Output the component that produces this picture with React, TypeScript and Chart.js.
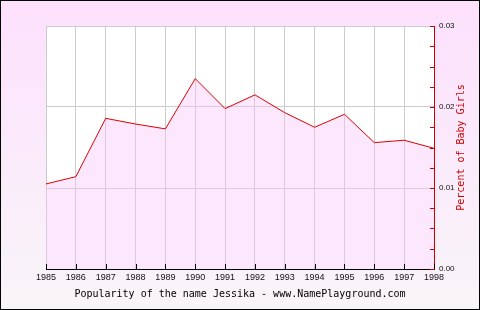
import React, { useEffect, useRef } from "react";
import { Chart, registerables } from "chart.js";

Chart.register(...registerables);

const years = ["1985","1986","1987","1988","1989","1990","1991","1992","1993","1994","1995","1996","1997","1998"];
const percent = [0.0105, 0.0114, 0.0186, 0.0179, 0.0173, 0.0235, 0.0198, 0.0215, 0.0193, 0.0175, 0.0191, 0.0156, 0.0159, 0.0149];
const yMin = 0;
const yMax = 0.03;
const yStep = 0.0025;
const chartTitle = "Popularity of the name Jessika - www.NamePlayground.com";
const yTitle = "Percent of Baby Girls";

const isMajor = (v: number) => Math.abs(v * 100 - Math.round(v * 100)) < 1e-6;

const decor = {
  id: "decor",
  beforeDraw(chart: any) {
    const { ctx, width, height, chartArea } = chart;
    ctx.save();
    const g = ctx.createLinearGradient(0, 0, 0, height);
    g.addColorStop(0, "#fde0fd");
    g.addColorStop(1, "#f8f5f8");
    ctx.fillStyle = g;
    ctx.fillRect(0, 0, width, height);
    ctx.fillStyle = "#ffffff";
    ctx.fillRect(chartArea.left, chartArea.top, chartArea.right - chartArea.left, chartArea.bottom - chartArea.top);
    ctx.restore();
  },
  afterDraw(chart: any) {
    const { ctx, width, height, chartArea } = chart;
    const xs = chart.scales.x;
    const ys = chart.scales.y;
    ctx.save();
    // inward x ticks
    ctx.strokeStyle = "#000000";
    ctx.lineWidth = 1;
    ctx.beginPath();
    for (let i = 0; i < years.length; i++) {
      const px = Math.round(xs.getPixelForTick(i)) + 0.5;
      ctx.moveTo(px, chartArea.bottom - 5);
      ctx.lineTo(px, chartArea.bottom);
    }
    ctx.stroke();
    // inward y ticks
    ctx.strokeStyle = "#cc0000";
    ctx.beginPath();
    ys.ticks.forEach((t: any) => {
      const py = Math.round(ys.getPixelForValue(t.value)) + 0.5;
      ctx.moveTo(chartArea.right - 4, py);
      ctx.lineTo(chartArea.right, py);
    });
    ctx.stroke();
    // chart title, centred on the full canvas
    ctx.fillStyle = "#000000";
    ctx.font = "10px 'DejaVu Sans Mono'";
    ctx.textAlign = "center";
    ctx.textBaseline = "middle";
    ctx.fillText(chartTitle, width / 2, 294);
    // y axis title, reading bottom to top
    ctx.fillStyle = "#cc0000";
    ctx.translate(461, (chartArea.top + chartArea.bottom) / 2);
    ctx.rotate(-Math.PI / 2);
    ctx.fillText(yTitle, 0, 0);
    ctx.restore();
    // outer border
    ctx.save();
    ctx.strokeStyle = "#000000";
    ctx.lineWidth = 1;
    ctx.strokeRect(0.5, 0.5, width - 1, height - 1);
    ctx.restore();
  },
};

export default function App() {
  const ref = useRef<HTMLCanvasElement | null>(null);
  useEffect(() => {
    if (!ref.current) return;
    const chart = new Chart(ref.current, {
      type: "line",
      data: {
        labels: years,
        datasets: [
          {
            data: percent,
            borderColor: "#dd0000",
            borderWidth: 1,
            backgroundColor: "rgba(250,196,250,0.4)",
            fill: "origin",
            pointRadius: 0,
            tension: 0,
          },
        ],
      },
      options: {
        animation: false,
        responsive: false,
        devicePixelRatio: 1,
        layout: { padding: { left: 46, top: 26, right: 0, bottom: 24 } },
        plugins: {
          legend: { display: false },
          tooltip: { enabled: false },
          title: { display: false },
        },
        scales: {
          x: {
            offset: false,
            grid: { color: "#cccccc", drawTicks: false, lineWidth: 1 },
            border: { color: "#000000", width: 1 },
            ticks: {
              color: "#111111",
              font: { family: "'Liberation Sans'", size: 9 },
              padding: 3,
              maxRotation: 0,
              autoSkip: false,
            },
            afterFit: (s: any) => { s.height = 17; },
          },
          y: {
            position: "right",
            min: yMin,
            max: yMax,
            grid: {
              drawTicks: false,
              color: (c: any) => (c.tick && c.tick.value > 0 && isMajor(c.tick.value) ? "#cccccc" : "rgba(0,0,0,0)"),
            },
            border: { color: "#cc0000", width: 1 },
            ticks: {
              stepSize: yStep,
              autoSkip: false,
              color: "#111111",
              font: { family: "'Liberation Sans'", size: 8 },
              padding: 5,
              callback: (v: any) => (isMajor(Number(v)) ? Number(v).toFixed(2) : ""),
            },
            afterFit: (s: any) => { s.width = 46; },
          },
        },
      },
      plugins: [decor],
    });
    return () => chart.destroy();
  }, []);
  return (
    <div style={{ position: "fixed", left: 0, top: 0, width: 480, height: 310 }}>
      <canvas ref={ref} width={480} height={310} style={{ display: "block", width: 480, height: 310 }} />
    </div>
  );
}
